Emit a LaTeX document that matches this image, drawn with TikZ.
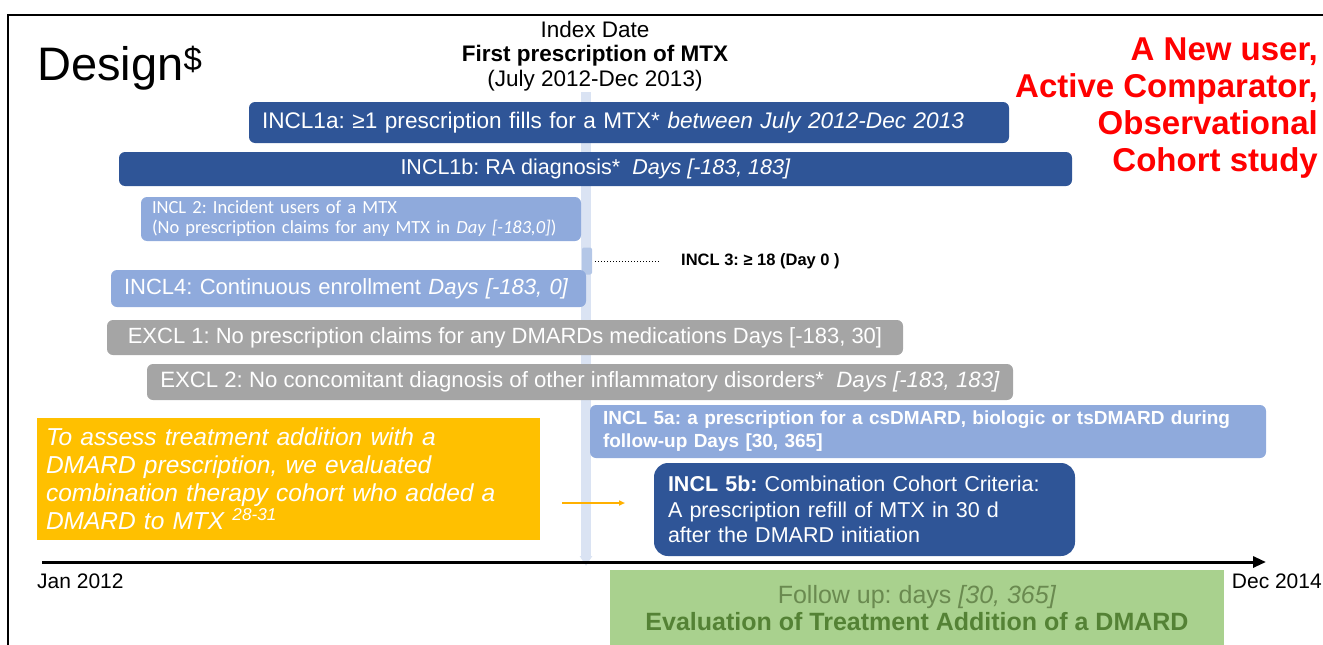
\documentclass[tikz,border=0pt]{standalone}
\usepackage{fontspec}
\setmainfont{Liberation Sans}
\newfontfamily\calfont{Carlito}
\usepackage{xcolor}
\usetikzlibrary{arrows, arrows.meta}
\definecolor{darkblue}{HTML}{2F5597}
\definecolor{midblue}{HTML}{8FAADC}
\definecolor{bandblue}{HTML}{DAE3F3}
\definecolor{agebox}{HTML}{B4C7E7}
\definecolor{excgray}{HTML}{A5A5A5}
\definecolor{notebox}{HTML}{FFC000}
\definecolor{noteline}{HTML}{FFB000}
\definecolor{followbox}{HTML}{A9D18E}
\definecolor{followtext}{HTML}{548235}
\definecolor{followsoft}{HTML}{6A8A50}
\definecolor{studyred}{HTML}{FF0000}
\newcommand{\fsz}[2]{\fontsize{#1}{#2}\selectfont}
\frenchspacing

\begin{document}
\begin{tikzpicture}[x=1pt, y=-1pt,
  bar/.style={rounded corners=6pt, inner sep=0pt, text=white},
  leftbar/.style={bar, align=left, text width=#1},
  plain/.style={inner sep=0pt}]
\useasboundingbox (0,0) rectangle (1323,645);
\draw[line width=2pt] (8,645) -- (8,15) -- (1323,15);

\node[plain, anchor=base west, font=\fsz{47}{50}] (design) at (37,80) {Design\textsuperscript{\$}};
\node[plain, align=center, font=\fsz{22.5}{24.5}] (index) at (595,56)
  {Index Date\\\textbf{First prescription of MTX}\\(July 2012-Dec 2013)};
\node[plain, anchor=east, align=right, text=studyred, font=\fsz{33}{37}\bfseries] (study) at (1318,108)
  {A New user,\\Active Comparator,\\Observational\\Cohort study};

\coordinate (idxtop) at (586,92);
\coordinate (idxbot) at (586,566);
\draw[line width=10pt, bandblue, -{Triangle[width=12pt, length=10pt]}] (idxtop) -- (idxbot);

\begin{scope}[every node/.append style={font=\fsz{22}{24}}]
  \node[leftbar=734pt, fill=darkblue, minimum width=760pt, minimum height=41pt, font=\fsz{22.6}{24}] (inclia) at (629,122.5)
    {INCL1a: ≥1 prescription fills for a MTX* \textit{between July 2012-Dec 2013}};
  \node[bar, fill=darkblue, minimum width=953pt, minimum height=34pt, font=\fsz{21.5}{24}] (inclib) at (595.5,169)
    {INCL1b: RA diagnosis*\ \ \textit{Days [-183, 183]}};
  \node[leftbar=418pt, fill=midblue, minimum width=440pt, minimum height=44pt, font=\calfont\fsz{18.5}{20}] (inclii) at (361,219)
    {INCL 2: Incident users of a MTX\\(No prescription claims for any MTX in \textit{Day [-183,0]})};
  \node[bar, rounded corners=2pt, fill=agebox, minimum width=10pt, minimum height=27pt] (incliii) at (587,261) {};
  \node[leftbar=449pt, fill=midblue, minimum width=475pt, minimum height=37pt] (incliv) at (348.5,288.5)
    {INCL4: Continuous enrollment \textit{Days [-183, 0]}};
  \node[bar, fill=excgray, minimum width=796pt, minimum height=35pt] (excli) at (505,337.5)
    {EXCL 1: No prescription claims for any DMARDs medications Days [-183, 30]};
  \node[bar, fill=excgray, minimum width=866pt, minimum height=36pt, font=\fsz{22.2}{24}] (exclii) at (580,382)
    {EXCL 2: No concomitant diagnosis of other inflammatory disorders*\ \ \textit{Days [-183, 183]}};
  \node[leftbar=650pt, fill=midblue, minimum width=676pt, minimum height=53pt, font=\fsz{19}{23}\bfseries] (inclva) at (928,431.5)
    {INCL 5a: a prescription for a csDMARD, biologic or tsDMARD during\\follow-up Days [30, 365]};
  \node[leftbar=393pt, fill=darkblue, rounded corners=14pt, minimum width=421pt, minimum height=93pt, font=\fsz{21.5}{25.5}] (inclvb) at (864.5,509.5)
    {\textbf{INCL 5b:} Combination Cohort Criteria:\\A prescription refill of MTX in 30 d\\after the DMARD initiation};
  \node[leftbar=485pt, fill=notebox, rounded corners=0pt, minimum width=503pt, minimum height=122pt, font=\fsz{24.5}{28}\itshape] (note) at (288.5,479)
    {To assess treatment addition with a\\DMARD prescription, we evaluated\\combination therapy cohort who added a\\DMARD to MTX \textsuperscript{28-31}};
  \node[plain, fill=followbox, minimum width=614pt, minimum height=76pt, align=center, text=followtext, font=\fsz{25}{27}] (follow) at (917,608)
    {\textcolor{followsoft}{Follow up: days \textit{[30, 365]}}\\\textbf{Evaluation of Treatment Addition of a DMARD}};
  \node[plain, anchor=west, font=\fsz{21}{24}] (jan) at (37,581) {Jan 2012};
  \node[plain, anchor=east, font=\fsz{21}{24}] (dec) at (1322,581) {Dec 2014};
\end{scope}

\coordinate (agedots) at (660,261);
\node[plain, anchor=west, font=\fsz{16.5}{18}\bfseries] (ageref) at (681,261) {INCL 3: ≥ 18 (Day 0 )};
\draw[dotted, line width=1pt] (incliii.east) ++(3,0) -- (agedots);

\coordinate (notefrom) at (562,503);
\coordinate (noteto) at (625,503);
\draw[noteline, line width=1.5pt, -{Triangle[width=5pt, length=6pt]}] (notefrom) -- (noteto);

\coordinate (axstart) at (42,562);
\coordinate (axend) at (1266,562);
\draw[line width=3pt, -{Triangle[width=11pt, length=13pt]}] (axstart) -- (axend);
\end{tikzpicture}
\end{document}
